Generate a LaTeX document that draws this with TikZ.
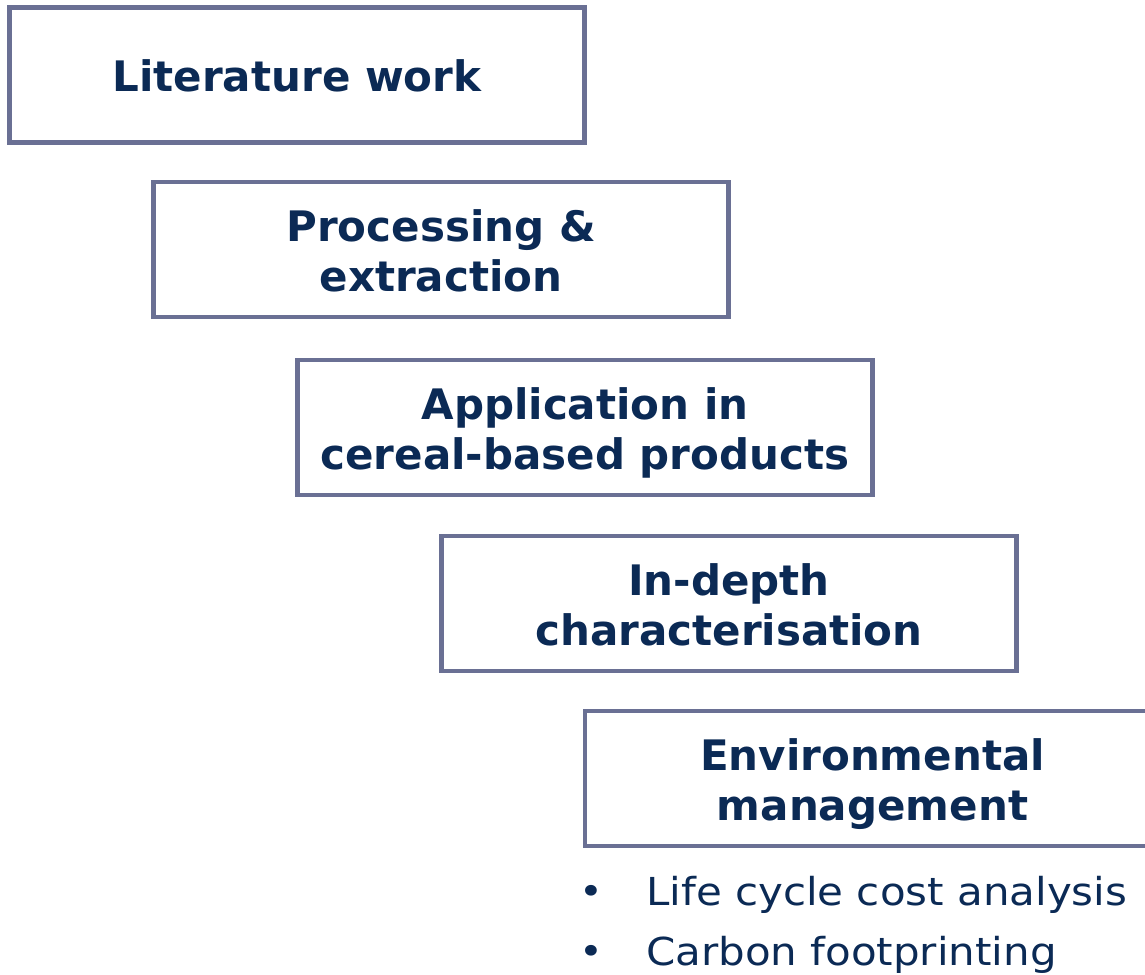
\documentclass[tikz,border=0pt]{standalone}
\usepackage{fontspec}
\setmainfont{DejaVu Sans}
\newfontfamily\listfont[FakeStretch=1.09]{DejaVu Sans}
\definecolor{frame}{HTML}{6A7094}
\definecolor{navy}{HTML}{0B2A55}
\newcommand\dotmark{\makebox[11pt][c]{\raisebox{0.5pt}{\fontsize{37}{37}\selectfont •}}}
\begin{document}
\begin{tikzpicture}[x=1pt,y=-1pt,
  stage/.style={draw=frame, line width=4.5pt, fill=white, minimum width=575pt,
    minimum height=135pt, inner sep=0pt, outer sep=0pt, anchor=north west},
  title/.style={align=center, text=navy, inner sep=0pt, yshift=-6pt,
    font=\fontsize{42}{50}\selectfont\bfseries,
    execute at begin node={\rule{0pt}{32pt}},
    execute at end node={\rule[-10pt]{0pt}{10pt}}},
  point/.style={anchor=base west, text=navy, inner sep=0pt,
    font=\listfont\fontsize{38.5}{47}\selectfont}]
\useasboundingbox (0,0) rectangle (1145,974);
\clip (0,0) rectangle (1145,974);
% the five stages, stepping down to the right
\node[stage] (lit)  at (9.5,7.5)   {};
\node[stage] (proc) at (153.5,182) {};
\node[stage] (app)  at (297.5,360) {};
\node[stage] (char) at (441.5,536) {};
\node[stage, minimum width=590pt] (env) at (585,711) {};
\node[title] (litT)  at (lit.center)  {Literature work};
\node[title] (procT) at (proc.center) {Processing \&\\extraction};
\node[title] (appT)  at (app.center)  {Application in\\cereal-based products};
\node[title] (charT) at (char.center) {In-depth\\characterisation};
\node[title] (envT)  at ([xshift=-7.5pt]env.center) {Environmental\\management};
% items under the last stage
\node[point] (b1) at (586,905) {\dotmark\hspace{49pt}Life cycle cost analysis};
\node[point] (b2) at (586,965) {\dotmark\hspace{49pt}Carbon footprinting};
\end{tikzpicture}
\end{document}
